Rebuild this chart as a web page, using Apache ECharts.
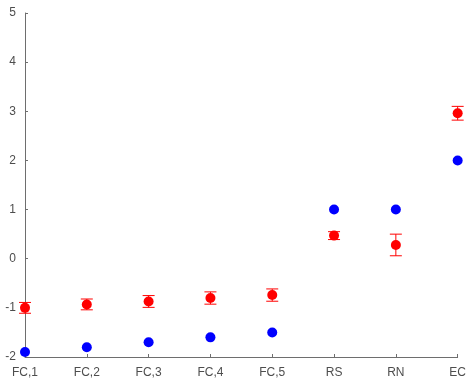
<!DOCTYPE html>
<html>
<head>
<meta charset="utf-8">
<script src="https://cdn.jsdelivr.net/npm/echarts@6/dist/echarts.min.js"></script>
<style>
  html, body { margin: 0; padding: 0; background: #fff; }
  #chart { width: 469px; height: 381px; }
</style>
</head>
<body>
<div id="chart"></div>
<script>
// Categories along the x axis
const categories = ['FC,1', 'FC,2', 'FC,3', 'FC,4', 'FC,5', 'RS', 'RN', 'EC'];
// Blue series (no error bars)
const blueValues = [-1.9, -1.8, -1.7, -1.6, -1.5, 1.0, 1.0, 2.0];
// Red series means and their half-width errors
const redValues = [-1.0, -0.93, -0.87, -0.8, -0.74, 0.47, 0.28, 2.96];
const redErrors = [0.11, 0.11, 0.12, 0.125, 0.125, 0.08, 0.22, 0.14];
// Y axis range and step
const yMin = -2, yMax = 5, yStep = 1;

const errorData = categories.map((c, i) => [i, redValues[i] - redErrors[i], redValues[i] + redErrors[i]]);

const axisColor = '#6e6e6e';
const labelColor = '#4d4d4d';
const font = 'Liberation Sans, Arial, sans-serif';

const chart = echarts.init(document.getElementById('chart'), null, { renderer: 'canvas' });
chart.setOption({
  animation: false,
  grid: { left: 25, right: 9, top: 13, bottom: 24, containLabel: false },
  xAxis: {
    type: 'category',
    data: categories,
    boundaryGap: false,
    axisLine: { onZero: false, lineStyle: { color: axisColor, width: 1 } },
    axisTick: { inside: true, length: 3, alignWithLabel: true, lineStyle: { color: axisColor } },
    axisLabel: { color: labelColor, fontFamily: font, fontSize: 12, margin: 10 },
    splitLine: { show: false }
  },
  yAxis: {
    type: 'value',
    min: yMin, max: yMax, interval: yStep,
    axisLine: { show: true, onZero: false, lineStyle: { color: axisColor, width: 1 } },
    axisTick: { show: true, inside: true, length: 3, lineStyle: { color: axisColor } },
    axisLabel: { color: labelColor, fontFamily: font, fontSize: 12, margin: 9 },
    splitLine: { show: false }
  },
  series: [
    {
      type: 'scatter',
      data: blueValues,
      symbol: 'circle',
      symbolSize: 10,
      itemStyle: { color: '#0000ff', opacity: 1 },
      z: 2
    },
    {
      type: 'custom',
      data: errorData,
      z: 3,
      renderItem: function (params, api) {
        const x = api.value(0);
        const lo = api.coord([x, api.value(1)]);
        const hi = api.coord([x, api.value(2)]);
        const half = 6;
        const style = { stroke: '#ff0000', lineWidth: 1, fill: null };
        return {
          type: 'group',
          children: [
            { type: 'line', shape: { x1: lo[0], y1: lo[1], x2: hi[0], y2: hi[1] }, style: style },
            { type: 'line', shape: { x1: lo[0] - half, y1: lo[1], x2: lo[0] + half, y2: lo[1] }, style: style },
            { type: 'line', shape: { x1: hi[0] - half, y1: hi[1], x2: hi[0] + half, y2: hi[1] }, style: style }
          ]
        };
      }
    },
    {
      type: 'scatter',
      data: redValues,
      symbol: 'circle',
      symbolSize: 10,
      itemStyle: { color: '#ff0000', opacity: 1 },
      z: 4
    }
  ]
});
</script>
</body>
</html>
